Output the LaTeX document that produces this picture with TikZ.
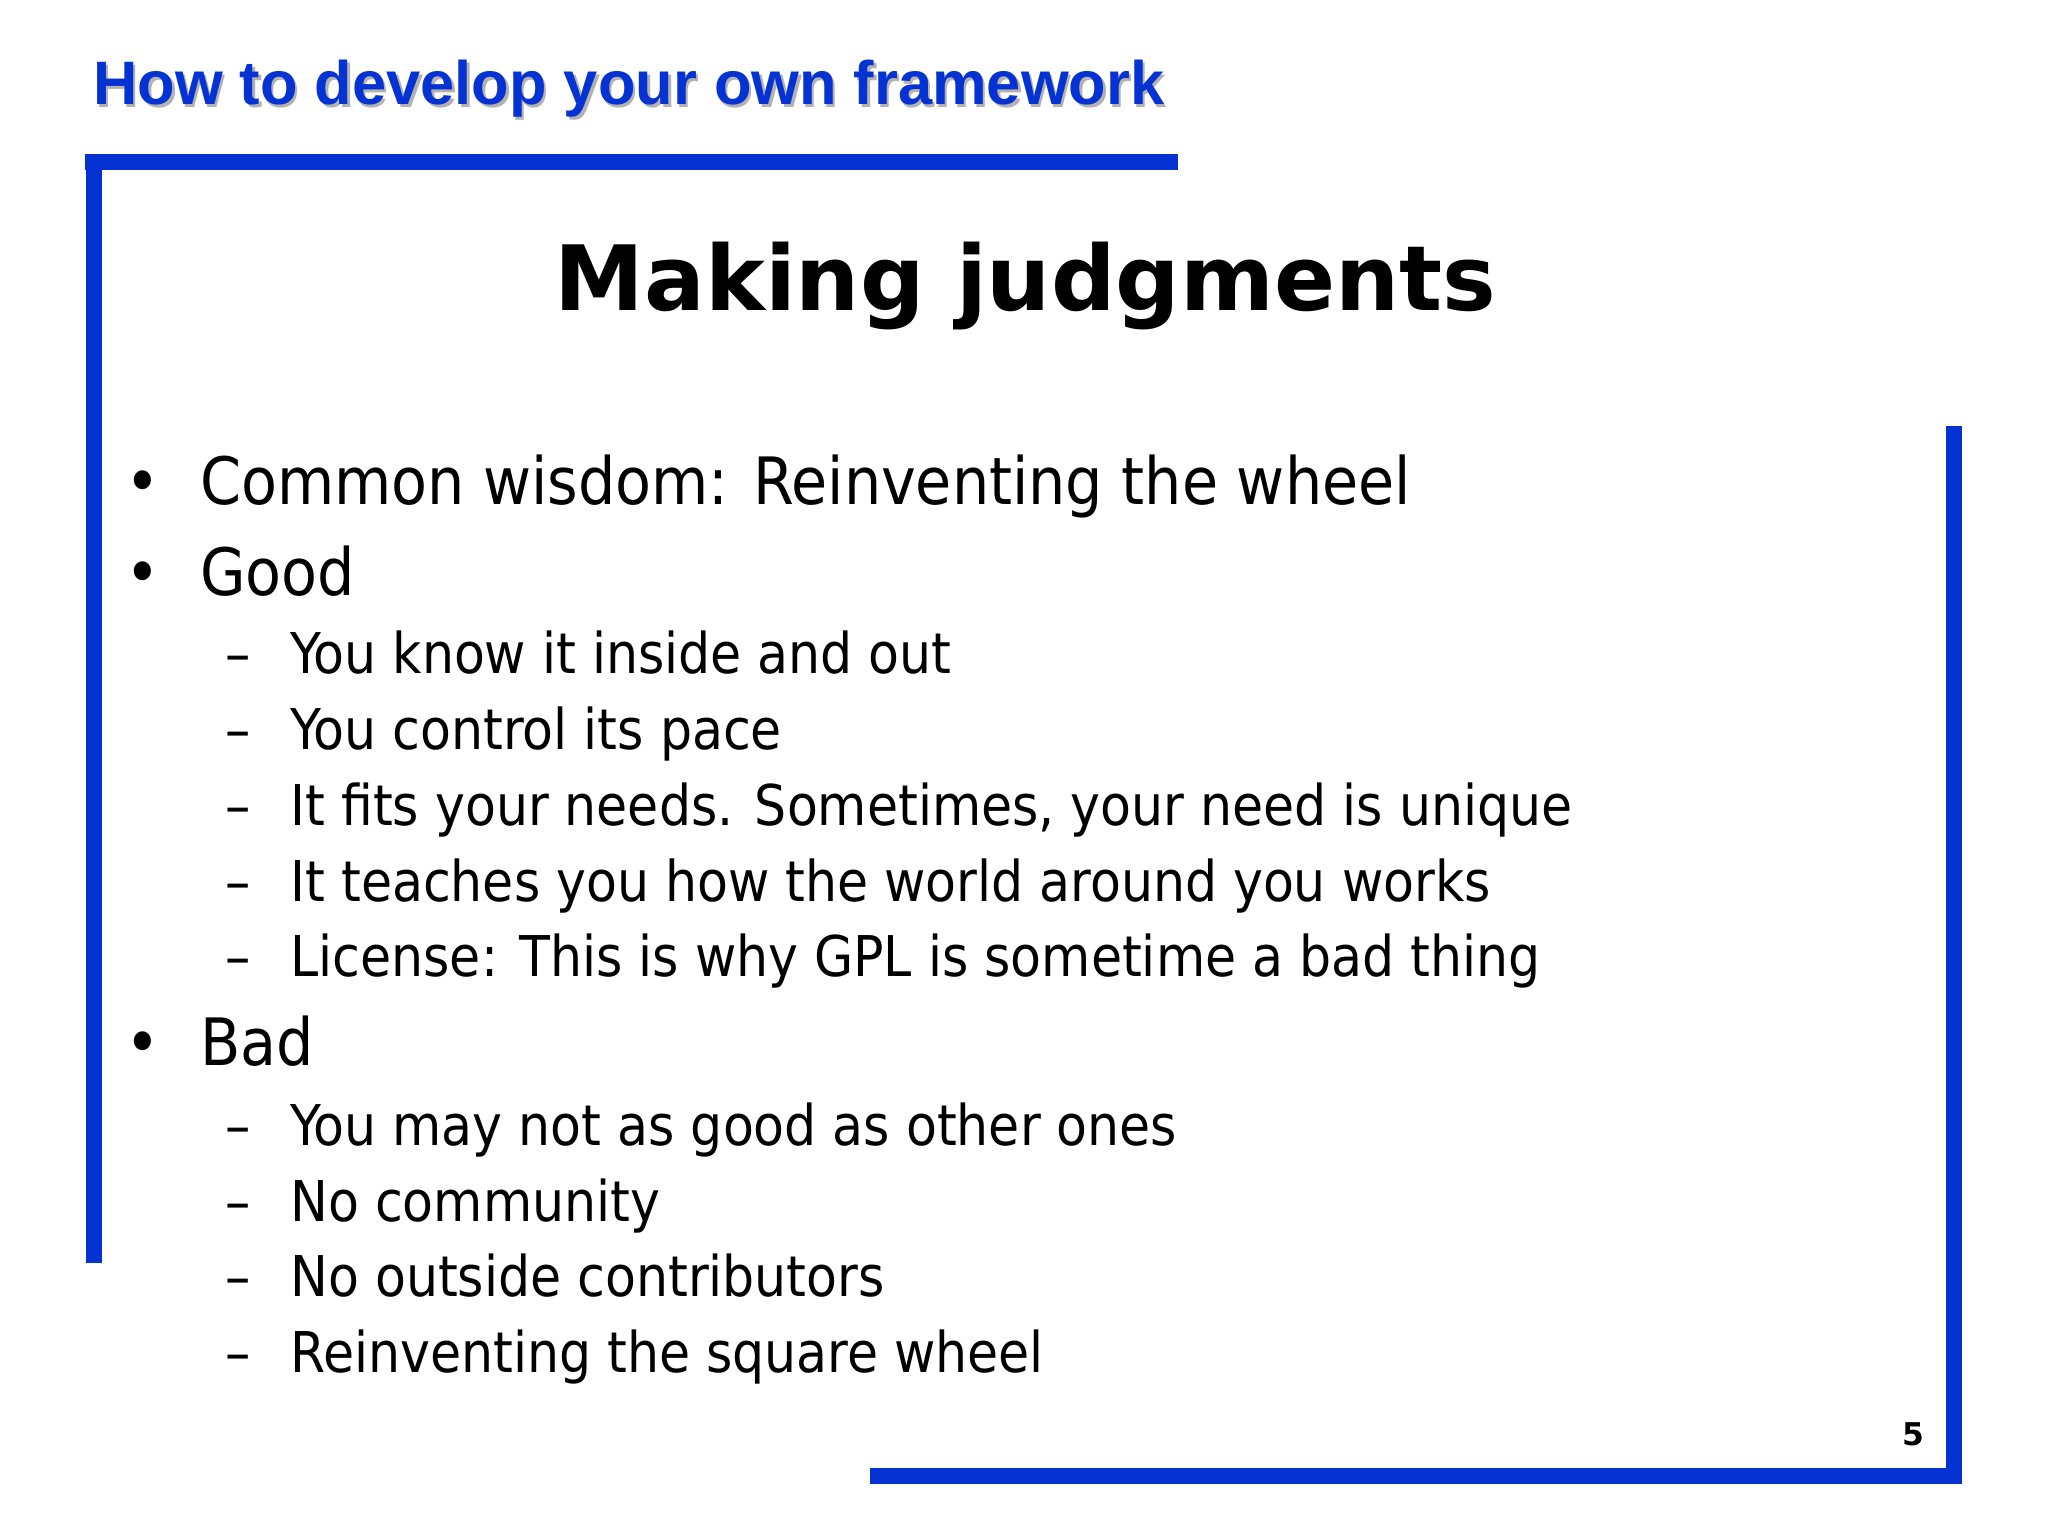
\documentclass[tikz,border=0pt]{standalone}
\usepackage{fontspec}
\setmainfont{DejaVu Sans}
\newfontfamily\bodyfont{DejaVu Sans Condensed}
\newfontfamily\hdrfont{Liberation Sans}
\definecolor{slideblue}{RGB}{5,50,210}
\begin{document}
\begin{tikzpicture}[x=0.5pt,y=-0.5pt,
  bar/.style={slideblue,line width=6pt},
  lvlone/.style={anchor=base west,inner sep=0pt,font=\bodyfont\fontsize{25}{30}\selectfont},
  lvltwo/.style={anchor=base west,inner sep=0pt,font=\bodyfont\fontsize{21.5}{26}\selectfont}]
\useasboundingbox (0,0) rectangle (1568,1176);
\fill[white] (0,0) rectangle (1568,1176);
\node[anchor=base west,inner sep=0pt,text=gray!60,font=\hdrfont\bfseries\fontsize{23.5}{28}\selectfont] at (73,82) {How to develop your own framework};
\node (hdr)[anchor=base west,inner sep=0pt,text=slideblue,font=\hdrfont\bfseries\fontsize{23.5}{28}\selectfont] at (71,80) {How to develop your own framework};
\draw[bar] (65,124) -- (902,124);
\draw[bar] (72,118) -- (72,967);
\draw[bar] (1496,326) -- (1496,1136);
\draw[bar] (666,1130) -- (1502,1130);
\node (ttl)[anchor=base,inner sep=0pt,font=\bfseries\fontsize{34.5}{41}\selectfont] at (785,238) {Making judgments};
\foreach \y/\t in {386/{Common wisdom: Reinventing the wheel},456/Good,816/Bad}{
  \node[lvlone] at (96,\y) {•};
  \node[lvlone] at (153,\y) {\t};}
\foreach \y/\t in {516/You know it inside and out,574/You control its pace,632/{It fits your needs. Sometimes, your need is unique},690/It teaches you how the world around you works,748/{License: This is why GPL is sometime a bad thing},877/You may not as good as other ones,935/No community,993/No outside contributors,1051/Reinventing the square wheel}{
  \node[lvltwo] at (172,\y) {–};
  \node[lvltwo] at (222,\y) {\t};}
\node (pg)[anchor=base,inner sep=0pt,font=\bfseries\fontsize{12}{14}\selectfont] at (1465,1107) {5};
\end{tikzpicture}
\end{document}
